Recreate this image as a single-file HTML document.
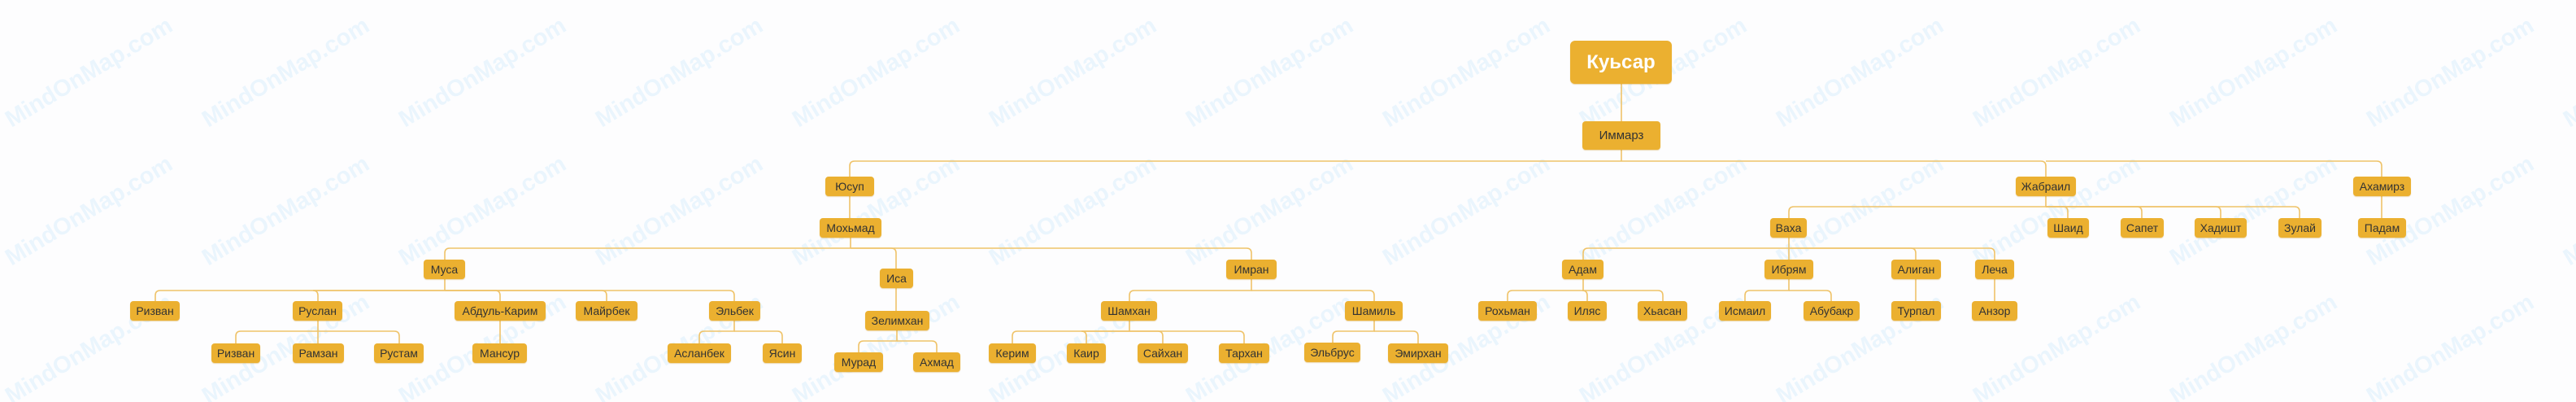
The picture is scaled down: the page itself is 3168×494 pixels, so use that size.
<!DOCTYPE html>
<html><head><meta charset="utf-8"><style>
html,body{margin:0;padding:0;background:#fdfdfe;}
#c{position:relative;width:3168px;height:494px;overflow:hidden;background:#fdfdfe;font-family:"Liberation Sans",sans-serif;}
svg{position:absolute;left:0;top:0;}
.n{position:absolute;height:24px;line-height:24px;background:#ebb030;border-radius:4px;color:#333;font-size:14px;text-align:center;white-space:nowrap;box-shadow:0 1px 1px rgba(200,140,20,0.35);}
</style></head><body><div id="c">
<svg width="3168" height="494">
<g fill="#eaf5fd" font-family="Liberation Sans, sans-serif" font-weight="bold" font-size="29">
<text transform="translate(14,157) rotate(-31)">MindOnMap.com</text>
<text transform="translate(256,157) rotate(-31)">MindOnMap.com</text>
<text transform="translate(498,157) rotate(-31)">MindOnMap.com</text>
<text transform="translate(740,157) rotate(-31)">MindOnMap.com</text>
<text transform="translate(982,157) rotate(-31)">MindOnMap.com</text>
<text transform="translate(1224,157) rotate(-31)">MindOnMap.com</text>
<text transform="translate(1466,157) rotate(-31)">MindOnMap.com</text>
<text transform="translate(1708,157) rotate(-31)">MindOnMap.com</text>
<text transform="translate(1950,157) rotate(-31)">MindOnMap.com</text>
<text transform="translate(2192,157) rotate(-31)">MindOnMap.com</text>
<text transform="translate(2434,157) rotate(-31)">MindOnMap.com</text>
<text transform="translate(2676,157) rotate(-31)">MindOnMap.com</text>
<text transform="translate(2918,157) rotate(-31)">MindOnMap.com</text>
<text transform="translate(3160,157) rotate(-31)">MindOnMap.com</text>
<text transform="translate(14,327) rotate(-31)">MindOnMap.com</text>
<text transform="translate(256,327) rotate(-31)">MindOnMap.com</text>
<text transform="translate(498,327) rotate(-31)">MindOnMap.com</text>
<text transform="translate(740,327) rotate(-31)">MindOnMap.com</text>
<text transform="translate(982,327) rotate(-31)">MindOnMap.com</text>
<text transform="translate(1224,327) rotate(-31)">MindOnMap.com</text>
<text transform="translate(1466,327) rotate(-31)">MindOnMap.com</text>
<text transform="translate(1708,327) rotate(-31)">MindOnMap.com</text>
<text transform="translate(1950,327) rotate(-31)">MindOnMap.com</text>
<text transform="translate(2192,327) rotate(-31)">MindOnMap.com</text>
<text transform="translate(2434,327) rotate(-31)">MindOnMap.com</text>
<text transform="translate(2676,327) rotate(-31)">MindOnMap.com</text>
<text transform="translate(2918,327) rotate(-31)">MindOnMap.com</text>
<text transform="translate(3160,327) rotate(-31)">MindOnMap.com</text>
<text transform="translate(14,497) rotate(-31)">MindOnMap.com</text>
<text transform="translate(256,497) rotate(-31)">MindOnMap.com</text>
<text transform="translate(498,497) rotate(-31)">MindOnMap.com</text>
<text transform="translate(740,497) rotate(-31)">MindOnMap.com</text>
<text transform="translate(982,497) rotate(-31)">MindOnMap.com</text>
<text transform="translate(1224,497) rotate(-31)">MindOnMap.com</text>
<text transform="translate(1466,497) rotate(-31)">MindOnMap.com</text>
<text transform="translate(1708,497) rotate(-31)">MindOnMap.com</text>
<text transform="translate(1950,497) rotate(-31)">MindOnMap.com</text>
<text transform="translate(2192,497) rotate(-31)">MindOnMap.com</text>
<text transform="translate(2434,497) rotate(-31)">MindOnMap.com</text>
<text transform="translate(2676,497) rotate(-31)">MindOnMap.com</text>
<text transform="translate(2918,497) rotate(-31)">MindOnMap.com</text>
</g>
<g fill="none" stroke="#efc369" stroke-width="1.6">
<path d="M1994 103V149"/>
<path d="M1994 184V198"/>
<path d="M1994 198H1051Q1045 198 1045 204V217"/>
<path d="M1994 198H2510Q2516 198 2516 204V217"/>
<path d="M2516 198H2923Q2929 198 2929 204V217"/>
<path d="M1045 239V268"/>
<path d="M1046 291V305"/>
<path d="M1046 305H553Q547 305 547 311V319"/>
<path d="M1046 305H1096Q1102 305 1102 311V330"/>
<path d="M1046 305H1533Q1539 305 1539 311V319"/>
<path d="M547 343V357"/>
<path d="M547 357H197Q191 357 191 363V370"/>
<path d="M547 357H385Q391 357 391 363V370"/>
<path d="M547 357H609Q615 357 615 363V370"/>
<path d="M547 357H740Q746 357 746 363V370"/>
<path d="M547 357H897Q903 357 903 363V370"/>
<path d="M391 394V422"/>
<path d="M391 407H296Q290 407 290 413V422"/>
<path d="M391 407H485Q491 407 491 413V422"/>
<path d="M615 394V422"/>
<path d="M903 394V407H866Q860 407 860 413V422"/>
<path d="M903 407H956Q962 407 962 413V422"/>
<path d="M1102 353V382"/>
<path d="M1103 405V419H1062Q1056 419 1056 425V433"/>
<path d="M1103 419H1146Q1152 419 1152 425V433"/>
<path d="M1539 343V357H1395Q1389 357 1389 363V370"/>
<path d="M1539 357H1684Q1690 357 1690 363V370"/>
<path d="M1389 394V407H1251Q1245 407 1245 413V422"/>
<path d="M1389 407H1330Q1336 407 1336 413V422"/>
<path d="M1389 407H1424Q1430 407 1430 413V422"/>
<path d="M1389 407H1524Q1530 407 1530 413V422"/>
<path d="M1690 394V407H1645Q1639 407 1639 413V421"/>
<path d="M1690 407H1738Q1744 407 1744 413V422"/>
<path d="M2516 239V254H2206Q2200 254 2200 260V268"/>
<path d="M2516 254H2537Q2543 254 2543 260V268"/>
<path d="M2516 254H2628Q2634 254 2634 260V268"/>
<path d="M2516 254H2725Q2731 254 2731 260V268"/>
<path d="M2516 254H2822Q2828 254 2828 260V268"/>
<path d="M2929 239V268"/>
<path d="M2200 291V305H1953Q1947 305 1947 311V319"/>
<path d="M2200 305V319"/>
<path d="M2200 305H2350Q2356 305 2356 311V319"/>
<path d="M2200 305H2447Q2453 305 2453 311V319"/>
<path d="M1947 343V357H1860Q1854 357 1854 363V370"/>
<path d="M1947 357H1946Q1952 357 1952 363V370"/>
<path d="M1947 357H2039Q2045 357 2045 363V370"/>
<path d="M2200 343V357H2152Q2146 357 2146 363V370"/>
<path d="M2200 357H2246Q2252 357 2252 363V370"/>
<path d="M2356 343V370"/>
<path d="M2453 343V370"/>
</g>
</svg>
<div class="n" style="left:1931px;top:50px;width:125px;height:53px;line-height:53px;border-radius:6px;color:#fff;font-weight:bold;font-size:24px;">Куьсар</div>
<div class="n" style="left:1946px;top:149px;width:96px;height:35px;line-height:35px;font-size:15px;">Иммарз</div>
<div class="n" style="left:1015px;top:217px;width:60px;">Юсуп</div>
<div class="n" style="left:2479px;top:217px;width:74px;">Жабраил</div>
<div class="n" style="left:2894px;top:217px;width:71px;">Ахамирз</div>
<div class="n" style="left:1008px;top:268px;width:76px;">Мохьмад</div>
<div class="n" style="left:2177px;top:268px;width:45px;">Ваха</div>
<div class="n" style="left:2518px;top:268px;width:51px;">Шаид</div>
<div class="n" style="left:2608px;top:268px;width:53px;">Сапет</div>
<div class="n" style="left:2699px;top:268px;width:64px;">Хадишт</div>
<div class="n" style="left:2802px;top:268px;width:53px;">Зулай</div>
<div class="n" style="left:2900px;top:268px;width:59px;">Падам</div>
<div class="n" style="left:521px;top:319px;width:51px;">Муса</div>
<div class="n" style="left:1082px;top:330px;width:41px;">Иса</div>
<div class="n" style="left:1508px;top:319px;width:62px;">Имран</div>
<div class="n" style="left:1921px;top:319px;width:51px;">Адам</div>
<div class="n" style="left:2170px;top:319px;width:60px;">Ибрям</div>
<div class="n" style="left:2326px;top:319px;width:61px;">Алиган</div>
<div class="n" style="left:2429px;top:319px;width:48px;">Леча</div>
<div class="n" style="left:160px;top:370px;width:61px;">Ризван</div>
<div class="n" style="left:360px;top:370px;width:61px;">Руслан</div>
<div class="n" style="left:559px;top:370px;width:112px;">Абдуль-Карим</div>
<div class="n" style="left:708px;top:370px;width:76px;">Майрбек</div>
<div class="n" style="left:872px;top:370px;width:63px;">Эльбек</div>
<div class="n" style="left:1064px;top:382px;width:79px;">Зелимхан</div>
<div class="n" style="left:1354px;top:370px;width:69px;">Шамхан</div>
<div class="n" style="left:1654px;top:370px;width:71px;">Шамиль</div>
<div class="n" style="left:1818px;top:370px;width:72px;">Рохьман</div>
<div class="n" style="left:1928px;top:370px;width:48px;">Иляс</div>
<div class="n" style="left:2014px;top:370px;width:61px;">Хьасан</div>
<div class="n" style="left:2114px;top:370px;width:64px;">Исмаил</div>
<div class="n" style="left:2218px;top:370px;width:69px;">Абубакр</div>
<div class="n" style="left:2326px;top:370px;width:61px;">Турпал</div>
<div class="n" style="left:2425px;top:370px;width:56px;">Анзор</div>
<div class="n" style="left:260px;top:422px;width:60px;">Ризван</div>
<div class="n" style="left:360px;top:422px;width:63px;">Рамзан</div>
<div class="n" style="left:460px;top:422px;width:61px;">Рустам</div>
<div class="n" style="left:581px;top:422px;width:67px;">Мансур</div>
<div class="n" style="left:821px;top:422px;width:78px;">Асланбек</div>
<div class="n" style="left:938px;top:422px;width:48px;">Ясин</div>
<div class="n" style="left:1026px;top:433px;width:60px;">Мурад</div>
<div class="n" style="left:1123px;top:433px;width:58px;">Ахмад</div>
<div class="n" style="left:1216px;top:422px;width:58px;">Керим</div>
<div class="n" style="left:1312px;top:422px;width:48px;">Каир</div>
<div class="n" style="left:1399px;top:422px;width:62px;">Сайхан</div>
<div class="n" style="left:1499px;top:422px;width:62px;">Тархан</div>
<div class="n" style="left:1604px;top:421px;width:69px;">Эльбрус</div>
<div class="n" style="left:1707px;top:422px;width:74px;">Эмирхан</div>
</div></body></html>
